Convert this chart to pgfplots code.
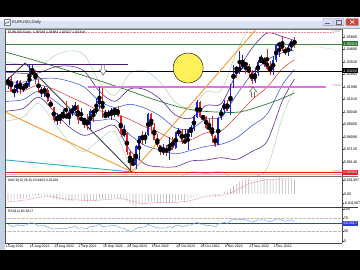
\documentclass[border=0pt]{standalone}
\usepackage{pgfplots}
\pgfplotsset{compat=1.18}
\usepackage{pgfplotstable}
\usepackage{fontspec}
\setmainfont{Liberation Sans}

\definecolor{bullc}{RGB}{25,35,225}
\definecolor{bearc}{RGB}{228,35,35}
\definecolor{bbpurple}{RGB}{95,45,150}
\definecolor{bbblue}{RGB}{45,70,225}
\definecolor{midred}{RGB}{225,50,40}
\definecolor{lgreen}{RGB}{165,212,165}
\definecolor{dgreen}{RGB}{45,125,45}
\definecolor{orangel}{RGB}{245,155,45}
\definecolor{cyanl}{RGB}{35,180,200}
\definecolor{magl}{RGB}{232,110,232}
\definecolor{purpleh}{RGB}{75,25,120}
\definecolor{bidg}{RGB}{60,140,60}
\definecolor{rsiblue}{RGB}{120,170,230}
\definecolor{levblue}{RGB}{50,60,210}
\definecolor{winframe}{RGB}{196,210,228}
\definecolor{tbar}{RGB}{216,228,243}
\definecolor{dotpink}{RGB}{235,140,150}
\definecolor{sigred}{RGB}{225,90,110}
\definecolor{circy}{RGB}{255,240,90}

\newcommand\mtf{\fontsize{3.7}{4.2}\selectfont}
\newcommand\mtd{\fontsize{3.5}{4.0}\selectfont}

\pgfplotstableread{
i o h l c
0 1.0220 1.0274 1.0180 1.0262
2 1.0164 1.0211 1.0123 1.0167
3 1.0167 1.0254 1.0149 1.0246
5 1.0181 1.0220 1.0160 1.0196
6 1.0196 1.0248 1.0183 1.0212
7 1.0212 1.0368 1.0200 1.0298
8 1.0298 1.0368 1.0290 1.0320
11 1.0160 1.0201 1.0122 1.0169
12 1.0169 1.0202 1.0123 1.0177
16 0.9943 0.9998 0.9900 0.9970
18 0.9968 1.0030 0.9950 0.9975
20 0.9965 1.0030 0.9900 1.0000
21 1.0000 1.0055 0.9975 1.0015
22 1.0015 1.0080 0.9995 1.0055
24 0.9945 1.0033 0.9940 0.9955
27 0.9905 1.0030 0.9875 1.0010
29 0.9998 1.0114 0.9990 1.0040
30 1.0040 1.0198 1.0030 1.0122
32 0.9968 1.0020 0.9955 0.9978
33 0.9978 1.0017 0.9955 0.9993
34 0.9993 1.0037 0.9945 1.0015
35 1.0015 1.0030 0.9966 1.0025
38 0.9836 0.9906 0.9807 0.9838
42 0.9595 0.9750 0.9562 0.9737
43 0.9737 0.9818 0.9635 0.9814
45 0.9800 0.9848 0.9753 0.9825
46 0.9825 0.9999 0.9815 0.9985
51 0.9700 0.9757 0.9670 0.9705
53 0.9702 0.9806 0.9632 0.9780
55 0.9723 0.9850 0.9720 0.9840
56 0.9840 0.9876 0.9817 0.9855
58 0.9770 0.9875 0.9755 0.9780
59 0.9780 0.9870 0.9705 0.9865
60 0.9865 0.9905 0.9807 0.9875
61 0.9875 0.9977 0.9860 0.9965
62 0.9965 1.0093 0.9955 1.0080
69 0.9750 0.9965 0.9745 0.9960
70 0.9960 1.0034 0.9940 1.0020
71 1.0020 1.0095 0.9990 1.0075
73 1.0015 1.0222 0.9980 1.0210
74 1.0210 1.0365 1.0190 1.0355
76 1.0325 1.0481 1.0300 1.0350
77 1.0350 1.0445 1.0340 1.0390
81 1.0245 1.0345 1.0230 1.0305
82 1.0305 1.0405 1.0285 1.0395
83 1.0395 1.0447 1.0390 1.0405
87 1.0330 1.0440 1.0290 1.0405
88 1.0405 1.0535 1.0390 1.0520
89 1.0520 1.0545 1.0430 1.0535
92 1.0467 1.0530 1.0440 1.0507
93 1.0507 1.0566 1.0475 1.0555
}\bull

\pgfplotstableread{
i o h l c
1 1.0262 1.0294 1.0162 1.0164
4 1.0246 1.0250 1.0141 1.0181
9 1.0320 1.0330 1.0220 1.0258
10 1.0258 1.0260 1.0150 1.0160
13 1.0177 1.0191 1.0080 1.0088
14 1.0088 1.0095 1.0034 1.0039
15 1.0039 1.0045 0.9926 0.9943
17 0.9972 0.9990 0.9910 0.9968
19 0.9975 1.0090 0.9950 0.9965
23 1.0055 1.0057 0.9910 0.9945
25 0.9955 0.9960 0.9877 0.9930
26 0.9930 0.9990 0.9864 0.9905
28 1.0010 1.0030 0.9930 0.9998
31 1.0122 1.0187 0.9960 0.9968
36 1.0025 1.0050 0.9965 0.9970
37 0.9970 0.9976 0.9813 0.9836
39 0.9838 0.9852 0.9667 0.9690
40 0.9690 0.9709 0.9536 0.9607
41 0.9607 0.9670 0.9590 0.9595
44 0.9814 0.9853 0.9748 0.9800
47 0.9985 0.9994 0.9836 0.9885
48 0.9885 0.9915 0.9785 0.9790
49 0.9790 0.9836 0.9730 0.9745
50 0.9745 0.9747 0.9670 0.9700
52 0.9710 0.9746 0.9662 0.9702
54 0.9780 0.9808 0.9710 0.9723
57 0.9855 0.9875 0.9755 0.9770
63 1.0080 1.0090 0.9954 0.9965
64 0.9968 0.9980 0.9935 0.9962
65 0.9962 0.9976 0.9874 0.9883
66 0.9883 0.9953 0.9850 0.9875
67 0.9875 0.9976 0.9760 0.9820
68 0.9820 0.9825 0.9730 0.9750
72 1.0075 1.0095 1.0010 1.0015
75 1.0355 1.0362 1.0270 1.0325
78 1.0390 1.0395 1.0300 1.0360
79 1.0360 1.0380 1.0270 1.0325
80 1.0325 1.0330 1.0223 1.0245
84 1.0405 1.0430 1.0350 1.0400
85 1.0400 1.0495 1.0330 1.0340
86 1.0340 1.0400 1.0290 1.0330
90 1.0535 1.0594 1.0480 1.0490
91 1.0490 1.0505 1.0445 1.0467
94 1.0555 1.0588 1.0503 1.0532
}\bear

\pgfplotstableread{
i mid u1 l1 u2 l2 u3 l3
-1 1.0160 1.0236 1.0084 1.0312 1.0008 1.0388 0.9932
0 1.0162 1.0237 1.0087 1.0312 1.0012 1.0387 0.9937
5 1.0168 1.0236 1.0100 1.0304 1.0032 1.0372 0.9964
10 1.0213 1.0260 1.0166 1.0307 1.0119 1.0354 1.0072
15 1.0181 1.0266 1.0096 1.0351 1.0011 1.0436 0.9926
20 1.0125 1.0243 1.0007 1.0361 0.9889 1.0479 0.9771
25 1.0072 1.0197 0.9947 1.0322 0.9822 1.0447 0.9697
30 1.0014 1.0089 0.9939 1.0164 0.9864 1.0239 0.9789
35 0.9992 1.0039 0.9945 1.0086 0.9898 1.0133 0.9851
40 0.9945 1.0064 0.9826 1.0183 0.9707 1.0302 0.9588
45 0.9888 1.0033 0.9743 1.0178 0.9598 1.0323 0.9453
50 0.9840 0.9971 0.9709 1.0102 0.9578 1.0233 0.9447
55 0.9779 0.9879 0.9679 0.9979 0.9579 1.0079 0.9479
60 0.9789 0.9872 0.9706 0.9955 0.9623 1.0038 0.9540
65 0.9843 0.9949 0.9737 1.0055 0.9631 1.0161 0.9525
70 0.9859 0.9964 0.9754 1.0069 0.9649 1.0174 0.9544
75 0.9970 1.0137 0.9803 1.0304 0.9636 1.0471 0.9469
80 1.0097 1.0297 0.9897 1.0497 0.9697 1.0697 0.9497
85 1.0196 1.0406 0.9986 1.0616 0.9776 1.0826 0.9566
90 1.0339 1.0464 1.0214 1.0589 1.0089 1.0714 0.9964
94 1.0409 1.0484 1.0334 1.0559 1.0259 1.0634 1.0184
}\bands

\pgfplotstableread{
i p
-1 1.0470
8 1.0410
17 1.0345
28 1.0262
39 1.0175
48 1.0100
56 1.0043
62 1.0015
68 1.0004
76 1.0004
84 1.0058
90 1.0110
94 1.0151
}\sma

\pgfplotstableread{
i m s
0 -96 -112
1 -93 -109
2 -88 -106
3 -77 -99
4 -72 -94
5 -64 -88
6 -56 -82
7 -40 -74
8 -24 -64
9 -16 -54
10 -19 -48
11 -21 -43
12 -22 -38
13 -32 -38
14 -45 -40
15 -64 -45
16 -77 -51
17 -88 -59
18 -93 -66
19 -99 -72
20 -99 -77
21 -96 -82
22 -88 -83
23 -93 -85
24 -96 -88
25 -101 -90
26 -107 -93
27 -99 -94
28 -93 -94
29 -83 -91
30 -67 -86
31 -67 -83
32 -67 -80
33 -64 -77
34 -59 -74
35 -54 -70
36 -56 -67
37 -72 -69
38 -85 -72
39 -112 -80
40 -144 -93
41 -166 -107
42 -168 -120
43 -160 -128
44 -154 -133
45 -144 -136
46 -115 -131
47 -104 -126
48 -106 -122
49 -112 -120
50 -122 -120
51 -128 -122
52 -131 -123
53 -125 -123
54 -125 -123
55 -109 -120
56 -93 -115
57 -91 -110
58 -88 -106
59 -74 -99
60 -61 -91
61 -40 -82
62 -8 -67
63 0 -54
64 5 -42
65 -3 -34
66 -8 -29
67 -19 -27
68 -35 -29
69 -16 -26
70 8 -19
71 32 -10
72 40 0
73 72 14
74 112 34
75 138 55
76 175 77
77 200 102
78 215 125
79 220 144
80 210 157
81 210 168
82 218 178
83 225 187
84 228 195
85 220 200
86 210 202
87 212 204
88 222 208
89 230 212
90 222 214
91 210 214
92 205 213
93 203 214
94 196 214
}\macd

\pgfplotstableread{
i r
0 52
1 46
2 46
3 51
4 48
5 49
6 50
7 56
8 57
9 53
10 47
11 48
12 48
13 43
14 41
15 37
16 39
17 39
18 39
19 39
20 42
21 43
22 46
23 40
24 41
25 40
26 39
27 46
28 45
29 48
30 53
31 45
32 46
33 47
34 48
35 49
36 46
37 40
38 40
39 34
40 31
41 31
42 39
43 43
44 43
45 44
46 52
47 48
48 44
49 42
50 40
51 41
52 41
53 45
54 42
55 48
56 49
57 45
58 46
59 50
60 50
61 54
62 59
63 53
64 53
65 49
66 49
67 47
68 44
69 53
70 56
71 58
72 55
73 62
74 68
75 66
76 67
77 68
78 66
79 64
80 59
81 62
82 66
83 66
84 66
85 62
86 61
87 64
88 68
89 69
90 64
91 62
92 64
93 66
94 60.3
}\rsi

\pgfdeclareplotmark{darrow}{%
  \pgfpathmoveto{\pgfpoint{-1.6pt}{5pt}}%
  \pgfpathlineto{\pgfpoint{1.6pt}{5pt}}%
  \pgfpathlineto{\pgfpoint{1.6pt}{0pt}}%
  \pgfpathlineto{\pgfpoint{3.6pt}{0pt}}%
  \pgfpathlineto{\pgfpoint{0pt}{-5pt}}%
  \pgfpathlineto{\pgfpoint{-3.6pt}{0pt}}%
  \pgfpathlineto{\pgfpoint{-1.6pt}{0pt}}%
  \pgfpathclose\pgfusepathqfillstroke}
\pgfdeclareplotmark{uarrow}{%
  \pgfpathmoveto{\pgfpoint{-1.6pt}{-5pt}}%
  \pgfpathlineto{\pgfpoint{1.6pt}{-5pt}}%
  \pgfpathlineto{\pgfpoint{1.6pt}{0pt}}%
  \pgfpathlineto{\pgfpoint{3.6pt}{0pt}}%
  \pgfpathlineto{\pgfpoint{0pt}{5pt}}%
  \pgfpathlineto{\pgfpoint{-3.6pt}{0pt}}%
  \pgfpathlineto{\pgfpoint{-1.6pt}{0pt}}%
  \pgfpathclose\pgfusepathqfillstroke}

\pgfplotsset{
  wick/.style={only marks, mark=none, forget plot,
    error bars/.cd, y dir=both, y explicit, error mark=none,
    error bar style={line width=0.45pt, draw=#1}},
  body/.style={only marks, mark=none, forget plot,
    error bars/.cd, y dir=both, y explicit, error mark=none,
    error bar style={line width=1.9pt, draw=#1}},
  mtpane/.style={scale only axis, anchor=south west, width=337pt,
    xmin=-1, xmax=109.6, axis line style={draw=none},
    tick style={draw=black!75, line width=0.35pt}, major tick length=1.8pt,
    tick align=outside, ytick pos=right, yticklabel pos=right,
    yticklabel style={font=\mtf, anchor=west, inner sep=0.4pt, xshift=-0.6pt},
    /pgf/number format/assume math mode=true},
}

\begin{document}
\begin{tikzpicture}
\useasboundingbox (0,0) rectangle (360pt,270pt);
\fill[black] (0,0) rectangle (360pt,270pt);
\begin{scope}[x=1pt,y=-1pt,shift={(0pt,270pt)}]
  \fill[winframe] (0,17) rectangle (360,250);
  \fill[tbar] (0,17) rectangle (360,28.5);
  \fill[white!96!blue] (0,17) rectangle (360,21);
  \draw[black!35, line width=0.3pt] (0,28.6) -- (360,28.6);
  % window icon
  \fill[white] (4,19.6) rectangle (10,25.2);
  \draw[black!50, line width=0.3pt] (4,19.6) rectangle (10,25.2);
  \draw[bullc, line width=0.4pt] (5,24.3) -- (6.5,22.3) -- (8,23.3) -- (9.3,20.8);
  \node[anchor=west, font=\fontsize{4.3}{5}\selectfont, text=black!85, inner sep=0] at (12,22.6) {EURUSD,Daily};
  % buttons
  \draw[black!45, fill=white!85!blue, line width=0.3pt, rounded corners=0.6pt] (323,18.6) rectangle (333,25.4);
  \draw[black!60, line width=0.6pt] (325.5,23.6) -- (330.5,23.6);
  \draw[black!45, fill=white!85!blue, line width=0.3pt, rounded corners=0.6pt] (334,18.6) rectangle (344,25.4);
  \draw[black!60, line width=0.4pt] (336.5,20.5) rectangle (341.5,24);
  \draw[black!45, fill={rgb,255:red,205;green,70;blue,55}, line width=0.3pt, rounded corners=0.6pt] (346,18.6) rectangle (358.5,25.4);
  \draw[white, line width=0.6pt] (350.2,20.3) -- (354.3,23.7) (350.2,23.7) -- (354.3,20.3);
  % client area
  \fill[white] (5,29) rectangle (360,250);
\end{scope}

% ===================== main price pane =====================
\begin{axis}[mtpane, at={(5pt,94pt)}, height=147pt,
  ymin=0.9507, ymax=1.0648, xtick=\empty,
  ytick={0.9518,0.9614,0.9712,0.9809,0.9906,1.0004,1.01015,1.0199,1.0295,1.0391,1.0488,1.0586},
  yticklabels={0.95180,0.96140,0.97120,0.98090,0.99060,1.00040,1.01015,1.01990,1.02950,1.03910,1.04880,1.05860}]
  % yellow circle object
  \addplot[only marks, mark=*, mark size=15pt, mark options={fill=circy, draw=none}, forget plot] coordinates {(59.1,1.0345)};
  % bands
  \addplot[lgreen, line width=0.45pt, smooth] table[x=i,y=u3]{\bands};
  \addplot[lgreen, line width=0.45pt, smooth] table[x=i,y=l3]{\bands};
  \addplot[dgreen, line width=0.7pt, smooth] table[x=i,y=p]{\sma};
  \addplot[bbpurple, line width=0.6pt, smooth] table[x=i,y=u2]{\bands};
  \addplot[bbpurple, line width=0.6pt, smooth] table[x=i,y=l2]{\bands};
  \addplot[bbblue, line width=0.5pt, smooth] table[x=i,y=u1]{\bands};
  \addplot[bbblue, line width=0.5pt, smooth] table[x=i,y=l1]{\bands};
  \addplot[midred, line width=0.5pt, smooth] table[x=i,y=mid]{\bands};
  % horizontal objects
  \addplot[dotpink, densely dotted, line width=0.45pt] coordinates {(-1,1.0625) (107,1.0625)};
  \addplot[dotpink, densely dotted, line width=0.45pt] coordinates {(91,1.0543) (107.5,1.0489)};
  \addplot[bidg, line width=0.6pt] coordinates {(-1,1.05318) (109.6,1.05318)};
  \addplot[purpleh, line width=1.3pt] coordinates {(-1,1.0375) (39.4,1.0375)};
  \addplot[black, line width=0.6pt] coordinates {(-1,1.0322) (109.6,1.0322)};
  \addplot[magl, line width=1.2pt] coordinates {(26.2,1.0198) (104.5,1.0198)};
  \addplot[bearc!35, line width=0.5pt] coordinates {(-1,0.9521) (109.6,0.9521)};
  \addplot[bearc, line width=0.6pt] coordinates {(-1,0.9536) (109.6,0.9536)};
  % trend lines
  \addplot[orangel, line width=0.9pt] coordinates {(-1,1.0004) (40.7,0.9538)};
  \addplot[orangel, line width=0.9pt] coordinates {(40.7,0.9538) (86,1.0770)};
  \addplot[cyanl, line width=0.9pt] coordinates {(-1,0.9632) (40.7,0.9538)};
  \addplot[black!85!cyan, line width=0.9pt] coordinates {(-1,1.0237) (5.6,1.0384) (40.7,0.9538)};
  % candles
  \addplot[wick=bullc] table[x=i, y expr={(\thisrow{h}+\thisrow{l})/2}, y error expr={(\thisrow{h}-\thisrow{l})/2}]{\bull};
  \addplot[body=bullc] table[x=i, y expr={(\thisrow{o}+\thisrow{c})/2}, y error expr={(\thisrow{c}-\thisrow{o})/2}]{\bull};
  \addplot[wick=bearc] table[x=i, y expr={(\thisrow{h}+\thisrow{l})/2}, y error expr={(\thisrow{h}-\thisrow{l})/2}]{\bear};
  \addplot[body=bearc] table[x=i, y expr={(\thisrow{o}+\thisrow{c})/2}, y error expr={(\thisrow{o}-\thisrow{c})/2}]{\bear};
  % arrows
  \addplot[only marks, mark=darrow, mark options={draw=black!80, fill=white, line width=0.4pt}] coordinates {(31.2,1.0330)};
  \addplot[only marks, mark=uarrow, mark options={draw=black!80, fill=white, line width=0.4pt}] coordinates {(80.4,1.0159)};
\end{axis}

% ===================== MACD pane =====================
\begin{axis}[mtpane, at={(5pt,63pt)}, height=30pt,
  ymin=-184, ymax=240, xtick=\empty,
  ytick={198,0,-127}, yticklabels={0.031357,0.00,-0.011567}]
  \addplot[ybar, bar width=0.6pt, fill=black!28, draw=none] table[x=i,y=m]{\macd};
  \addplot[sigred, densely dotted, line width=0.6pt] table[x=i,y=s]{\macd};
\end{axis}

% ===================== RSI pane =====================
\begin{axis}[mtpane, at={(5pt,27pt)}, height=35pt,
  ymin=-6, ymax=103,
  ytick={0,30,70,100}, yticklabels={0,30,70,100},
  xtick={0,8,16,24,32,40,48,56,64,72,80,88},
  xticklabels={1 Aug 2022,11 Aug 2022,23 Aug 2022,2 Sep 2022,14 Sep 2022,26 Sep 2022,6 Oct 2022,18 Oct 2022,28 Oct 2022,9 Nov 2022,21 Nov 2022,1 Dec 2022},
  xtick pos=bottom, xticklabel pos=bottom,
  xticklabel style={font=\mtd, anchor=north west, inner sep=0.3pt, xshift=-3pt, yshift=-0.2pt}]
  \addplot[black!25, densely dotted, line width=0.3pt] coordinates {(-1,70) (109.6,70)};
  \addplot[black!25, densely dotted, line width=0.3pt] coordinates {(-1,30) (109.6,30)};
  \addplot[levblue, line width=1.1pt] coordinates {(-1,55) (109.6,55)};
  \addplot[rsiblue, line width=0.5pt] table[x=i,y=r]{\rsi};
\end{axis}

\begin{scope}[x=1pt,y=-1pt,shift={(0pt,270pt)}]
  % frames and separators
  \draw[black!55, line width=0.4pt] (5,29.2) -- (342,29.2);
  \draw[black!65, line width=0.5pt] (5,29) -- (5,243);
  \draw[black!70, line width=0.5pt] (342,29) -- (342,243);
  \draw[black!55, line width=0.5pt] (5,176.5) -- (358,176.5);
  \draw[black!75, line width=0.6pt] (5,207.5) -- (358,207.5);
  \draw[black!70, line width=0.5pt] (5,243) -- (342,243);
  % indicator captions
  \node[anchor=west, inner sep=0, font=\fontsize{3.4}{4}\selectfont] at (8,32.3) {EURUSD,Daily\ \ 1.05549 1.05881 1.05027 1.05318};
  \node[anchor=west, inner sep=0, font=\fontsize{3.4}{4}\selectfont] at (8,181) {MACD(12,26,9) 0.01963 0.02138};
  \node[anchor=west, inner sep=0, font=\fontsize{3.4}{4}\selectfont] at (8,212) {RSI(14) 60.3017};
  % object labels
  \node[anchor=east, inner sep=0, font=\fontsize{2.8}{3}\selectfont, text=black!45] at (341,31.2) {1.0625};
  \node[anchor=east, inner sep=0, font=\fontsize{2.8}{3}\selectfont, text=black!45] at (341,85.6) {1.0198};
  \node[anchor=east, inner sep=0, font=\fontsize{2.8}{3}\selectfont, text=black!45] at (341,171.4) {0.9536};
  % price boxes
  \fill[bidg!80!black] (342.3,41.4) rectangle (358.5,46.4);
  \node[text=white, inner sep=0, font=\mtf] at (350.4,43.9) {1.05318};
  \fill[black] (342.3,68.5) rectangle (358.5,73.5);
  \node[text=white, inner sep=0, font=\mtf] at (350.4,71) {1.03220};
  \fill[bearc] (342.3,169.8) rectangle (358.5,174.8);
  \node[text=white, inner sep=0, font=\mtf] at (350.4,172.3) {0.95360};
  \fill[levblue] (342.3,221) rectangle (358.5,226);
  \node[text=white, inner sep=0, font=\mtf] at (350.4,223.5) {60.3017};
\end{scope}
\end{tikzpicture}
\end{document}
